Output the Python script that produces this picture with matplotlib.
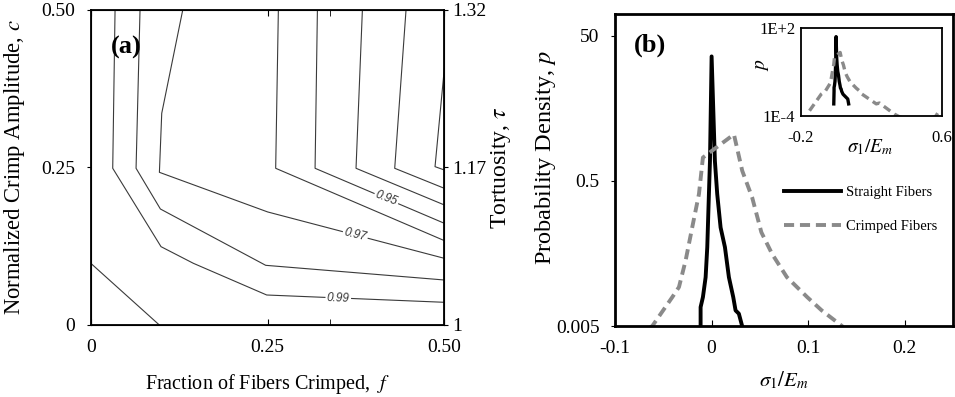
import numpy as np
import matplotlib
matplotlib.use('Agg')
import matplotlib.pyplot as plt

plt.rcParams['font.family'] = ['Liberation Serif', 'DejaVu Serif']
plt.rcParams['mathtext.fontset'] = 'stix'

# ---- panel (a): contour lines (f, c vertices per level)
contour_levels = [1.00, 0.99, 0.98, 0.97, 0.96, 0.95, 0.94, 0.93, 0.92]
contour_f = [
    [0.0, 0.097],
    [0.0344, 0.0311, 0.0994, 0.1451, 0.2488, 0.5],
    [0.0697, 0.0641, 0.0985, 0.2474, 0.5],
    [0.1301, 0.1004, 0.0971, 0.2502, 0.5],
    [0.2653, 0.2615, 0.5],
    [0.3205, 0.3172, 0.5],
    [0.3841, 0.3751, 0.5],
    [0.4458, 0.4298, 0.5],
    [0.5, 0.4868, 0.5],
]
contour_c = [
    [0.098, 0.0],
    [0.5, 0.2487, 0.1243, 0.0979, 0.0476, 0.036],
    [0.5, 0.2487, 0.1841, 0.0947, 0.0714],
    [0.5, 0.336, 0.2423, 0.1794, 0.1058],
    [0.5, 0.2487, 0.1339],
    [0.5, 0.2487, 0.1614],
    [0.5, 0.2487, 0.1905],
    [0.5, 0.2487, 0.2169],
    [0.4074, 0.2513, 0.246],
]
label_text = ['0.95', '0.97', '0.99']
label_line = [5, 3, 1]
label_f = [0.418, 0.374, 0.350]
label_rot = [-21, -14, -2]

f_ticks = [0, 0.25, 0.5]
f_ticklabels = ['0', '0.25', '0.50']
c_ticks = [0, 0.25, 0.5]
c_ticklabels = ['0', '0.25', '0.50']
tau_ticklabels = ['1', '1.17', '1.32']

# ---- panel (b): probability density curves
straight_x = [-0.013, -0.0114, -0.0114, -0.009, -0.0062, -0.0045, -0.0028, -0.0017, 0.0,
              0.0034, 0.0058, 0.0093, 0.0138, 0.0179, 0.0224, 0.0248, 0.0282, 0.0316,
              0.039, 0.066, 0.071]
straight_p = [7e-4, 0.005, 0.0091, 0.0125, 0.0235, 0.061, 0.33, 0.94, 26,
              0.94, 0.33, 0.114, 0.061, 0.0235, 0.0125, 0.0082, 0.0074, 0.005,
              0.0032, 0.0015, 7e-4]
crimped_x = [-0.15, -0.084, -0.0614, -0.0407, -0.0338, -0.0269, -0.0201, -0.0131, -0.009,
             0.0231, 0.0317, 0.042, 0.0515, 0.0627, 0.078, 0.099, 0.114, 0.135, 0.142,
             0.227, 0.245, 0.33, 0.36, 0.45, 0.56, 0.576, 0.6]
crimped_p = [2.4e-4, 0.0032, 0.005, 0.0125, 0.0172, 0.040, 0.114, 0.33, 1.05,
             2.19, 0.69, 0.295, 0.098, 0.049, 0.0235, 0.0125, 0.0082, 0.005, 0.0035,
             7e-4, 8e-4, 1.4e-4, 9e-5, 5e-5, 9e-5, 1.8e-4, 8e-5]

sx_ticks = [-0.1, 0, 0.1, 0.2]
sx_ticklabels = ['-0.1', '0', '0.1', '0.2']
p_ticks = [0.005, 0.5, 50]
p_ticklabels = ['0.005', '0.5', '50']

fig = plt.figure(figsize=(9.55, 3.97), dpi=100)

# ================= panel (a)
ax = fig.add_axes([0.095, 0.1814, 0.3703, 0.7935])
for fs, cs in zip(contour_f, contour_c):
    ax.plot(fs, cs, color='#3a3a3a', lw=0.8)
for txt, li, fx, rot in zip(label_text, label_line, label_f, label_rot):
    fs = contour_f[li]
    cs = contour_c[li]
    cy = np.interp(fx, fs[-2:], cs[-2:])
    ax.text(fx, cy, txt, fontsize=8.5, family='Liberation Sans', style='italic',
            rotation=rot, ha='center', va='center', color='#333333',
            bbox=dict(fc='white', ec='none', pad=1.0))
ax.set_xlim(0, 0.5)
ax.set_ylim(0, 0.5)
ax.set_xticks(f_ticks)
ax.set_xticklabels(f_ticklabels)
ax.set_xticks([0.338], minor=True)
ax.set_yticks(c_ticks)
ax.set_yticklabels(c_ticklabels)
ax.tick_params(axis='x', which='both', direction='in', length=4, pad=10, labelsize=14, top=True)
ax.tick_params(axis='y', direction='out', length=3, pad=8, labelsize=14)
for s in ax.spines.values():
    s.set_linewidth(1.3)
ax.set_xlabel('Fraction of Fibers Crimped,  $f$', fontsize=14.5)
ax.xaxis.set_label_coords(0.5, -0.15)
ax.set_ylabel('Normalized Crimp Amplitude, $c$', fontsize=16.3)
ax.yaxis.set_label_coords(-0.18, 0.5)
ax.text(0.1, 0.88, '(a)', transform=ax.transAxes, fontsize=19, fontweight='bold',
        ha='center', va='center')

ax2 = ax.twinx()
ax2.set_ylim(0, 0.5)
ax2.set_yticks(c_ticks)
ax2.set_yticklabels(tau_ticklabels)
ax2.tick_params(axis='y', direction='out', length=3, pad=3, labelsize=14)
ax2.set_ylabel('Tortuosity, $\\tau$', fontsize=17)
ax2.yaxis.set_label_coords(1.125, 0.5)

# ================= panel (b)
bx = fig.add_axes([0.644, 0.1788, 0.354, 0.786])
bx.plot(straight_x, straight_p, color='black', lw=2.8, label='Straight Fibers')
bx.plot(crimped_x, crimped_p, color='#8a8a8a', lw=2.8, dashes=(2.6, 1.5),
        label='Crimped Fibers')
bx.set_yscale('log')
bx.set_xlim(-0.1, 0.25)
bx.set_ylim(0.005, 100)
bx.set_xticks(sx_ticks)
bx.set_xticklabels(sx_ticklabels)
bx.set_yticks(p_ticks)
bx.set_yticklabels(p_ticklabels)
bx.minorticks_off()
bx.tick_params(axis='x', direction='in', length=4, pad=10, labelsize=14)
bx.tick_params(axis='y', direction='out', length=3, pad=8, labelsize=14)
for s in bx.spines.values():
    s.set_linewidth(2)
bx.set_xlabel('$\\sigma_1/E_m$', fontsize=15)
bx.xaxis.set_label_coords(0.5, -0.14)
bx.set_ylabel('Probability Density, $p$', fontsize=17.5)
bx.yaxis.set_label_coords(-0.169, 0.54)
bx.text(0.104, 0.9, '(b)', transform=bx.transAxes, fontsize=19, fontweight='bold',
        ha='center', va='center')
bx.legend(loc='upper left', bbox_to_anchor=(0.5, 0.45), frameon=False, fontsize=10.5,
          handlelength=3.9, handletextpad=0.35, labelspacing=1.45, borderpad=0,
          borderaxespad=0)

# inset
ix = fig.add_axes([0.8384, 0.707, 0.1483, 0.2224])
ix.plot(straight_x, straight_p, color='black', lw=2.4)
ix.plot(crimped_x, crimped_p, color='#8a8a8a', lw=2.4, dashes=(2.4, 1.5))
ix.set_yscale('log')
ix.set_xlim(-0.2, 0.6)
ix.set_ylim(1e-4, 1e2)
ix.set_xticks([-0.2, 0.6])
ix.set_xticklabels(['-0.2', '0.6'])
ix.set_yticks([1e-4, 1e2])
ix.set_yticklabels(['1E-4', '1E+2'])
ix.minorticks_off()
ix.tick_params(axis='x', length=0, pad=10, labelsize=12)
ix.tick_params(axis='y', length=0, pad=4, labelsize=12)
for s in ix.spines.values():
    s.set_linewidth(1.3)
ix.text(0.49, -0.35, '$\\sigma_1/E_m$', transform=ix.transAxes, fontsize=14,
        ha='center', va='center')
ix.text(-0.27, 0.58, '$p$', transform=ix.transAxes, fontsize=14, rotation=90,
        ha='center', va='center')

fig.savefig('out.png', dpi=100)
